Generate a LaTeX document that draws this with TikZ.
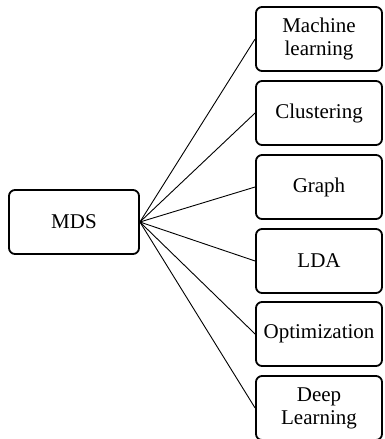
\documentclass[tikz,border=0pt]{standalone}
\usepackage{fontspec}
\setmainfont{Liberation Serif}
\begin{document}
\begin{tikzpicture}[x=1pt,y=-1pt,
  box/.style={draw=black,line width=1.8pt,rounded corners=6pt,align=center,
    font=\fontsize{21}{23}\selectfont,inner sep=0pt},
  link/.style={draw=black,line width=0.9pt}]
\useasboundingbox (0,0) rectangle (384,439);
\node[box,minimum width=130pt,minimum height=64pt] (mds) at (74,222) {MDS};
\begin{scope}[every node/.style={box,minimum width=126pt,minimum height=64pt}]
\node (a) at (319,39) {Machine\\learning};
\node (b) at (319,113) {Clustering};
\node (c) at (319,187) {Graph};
\node (d) at (319,261) {LDA};
\node (e) at (319,334) {Optimization};
\node (f) at (319,408) {Deep\\Learning};
\end{scope}
\foreach \t in {a,b,c,d,e,f}{\draw[link] (mds.east) -- (\t.west);}
\end{tikzpicture}
\end{document}
